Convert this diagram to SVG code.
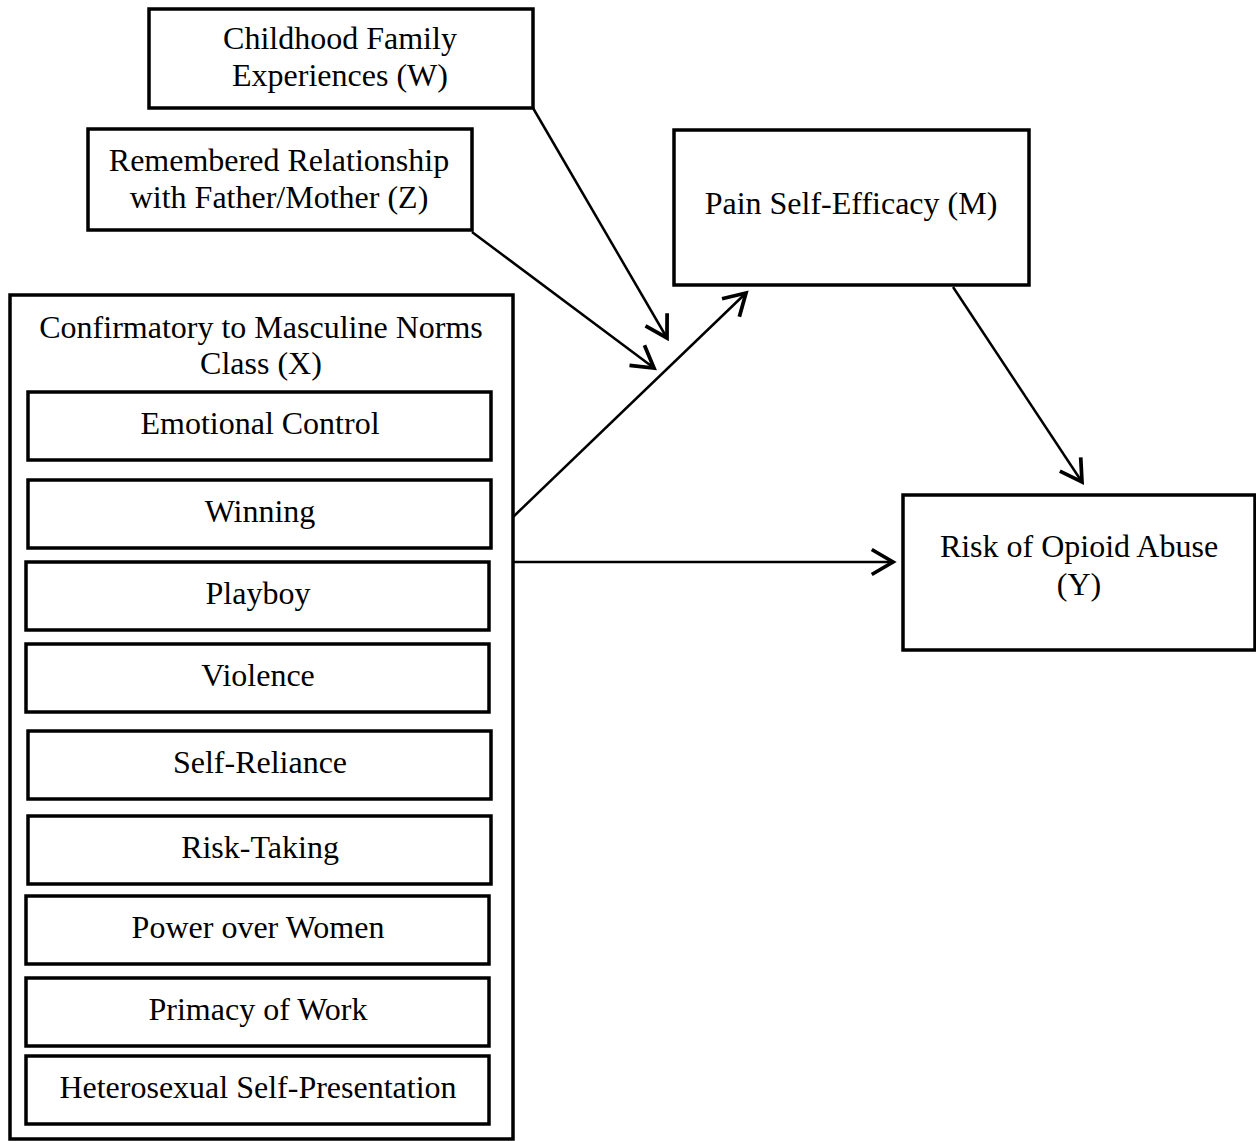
<svg xmlns="http://www.w3.org/2000/svg" width="1256" height="1141" viewBox="0 0 1256 1141">
<style>
.box{fill:#fff;stroke:#000;stroke-width:3.5}
.t{font-family:"Liberation Serif","Times New Roman",serif;font-size:32px;fill:#000;text-anchor:middle}
.c{stroke:#000;stroke-width:2.5;fill:none;marker-end:url(#ah)}
</style>
<defs>
<marker id="ah" markerUnits="userSpaceOnUse" markerWidth="30" markerHeight="30" viewBox="-20 -12 24 24" refX="0" refY="0" orient="auto">
<path d="M-17,-10 L0,0 L-17,10" fill="none" stroke="#000" stroke-width="3"/>
</marker>
</defs>
<rect width="1256" height="1141" fill="#fff"/>
<g id="W"><rect class="box" x="149" y="9" width="384" height="99"/><text class="t" x="340" y="49">Childhood Family</text><text class="t" x="340" y="86">Experiences (W)</text></g>
<g id="Z"><rect class="box" x="88" y="129" width="384" height="101"/><text class="t" x="279" y="171">Remembered Relationship</text><text class="t" x="279" y="208">with Father/Mother (Z)</text></g>
<g id="M"><rect class="box" x="674" y="130" width="355" height="155"/><text class="t" x="851" y="214">Pain Self-Efficacy (M)</text></g>
<g id="Y"><rect class="box" x="903" y="495" width="352" height="155"/><text class="t" x="1079" y="557">Risk of Opioid Abuse</text><text class="t" x="1079" y="595">(Y)</text></g>
<g id="X">
<rect class="box" x="10" y="295" width="503" height="844"/>
<text class="t" x="261" y="338">Confirmatory to Masculine Norms</text>
<text class="t" x="261" y="374">Class (X)</text>
<g id="X1"><rect class="box" x="28" y="392" width="463" height="68"/><text class="t" x="260" y="434">Emotional Control</text></g>
<g id="X2"><rect class="box" x="28" y="480" width="463" height="68"/><text class="t" x="260" y="522">Winning</text></g>
<g id="X3"><rect class="box" x="26" y="562" width="463" height="68"/><text class="t" x="258" y="604">Playboy</text></g>
<g id="X4"><rect class="box" x="26" y="644" width="463" height="68"/><text class="t" x="258" y="686">Violence</text></g>
<g id="X5"><rect class="box" x="28" y="731" width="463" height="68"/><text class="t" x="260" y="773">Self-Reliance</text></g>
<g id="X6"><rect class="box" x="28" y="816" width="463" height="68"/><text class="t" x="260" y="858">Risk-Taking</text></g>
<g id="X7"><rect class="box" x="26" y="896" width="463" height="68"/><text class="t" x="258" y="938">Power over Women</text></g>
<g id="X8"><rect class="box" x="26" y="978" width="463" height="68"/><text class="t" x="258" y="1020">Primacy of Work</text></g>
<g id="X9"><rect class="box" x="26" y="1056" width="463" height="68"/><text class="t" x="258" y="1098">Heterosexual Self-Presentation</text></g>
</g>
<g id="connectors">
<line class="c" x1="533" y1="108" x2="667" y2="338"/>
<line class="c" x1="472" y1="232" x2="654" y2="368"/>
<line class="c" x1="513" y1="517" x2="746" y2="293"/>
<line class="c" x1="513" y1="562" x2="893" y2="562"/>
<line class="c" x1="953" y1="287" x2="1082" y2="482"/>
</g>
</svg>
